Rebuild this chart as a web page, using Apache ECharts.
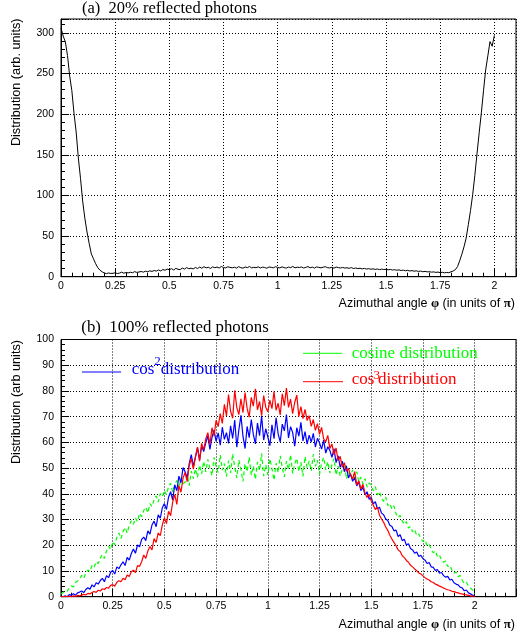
<!DOCTYPE html>
<html><head><meta charset="utf-8">
<script src="https://cdn.jsdelivr.net/npm/echarts@6/dist/echarts.min.js"></script>
<style>html,body{margin:0;padding:0;background:#fff}#c{width:517px;height:638px}</style>
</head><body><div id="c"></div><script>
// Bin step along the azimuthal axis (units of pi)
const binStep = 0.01;

// (a) 20% reflected photons
const reflected20 = [306,296,289,272,247,229,201,178,146,121,
93,72,55,41,28,22,16,11,8,6,
4.5,3.8,4.6,4.0,4.2,4.8,3.9,4.4,5.6,4.3,
5.1,4.7,5.5,4.9,6.2,5.3,5.8,6.4,5.6,6.8,
6.1,7.2,6.5,7.6,6.9,8.3,7.1,8.8,7.9,9.4,
8.6,9.9,8.2,10.3,9.1,8.7,10.6,9.4,11.2,9.8,
10.5,9.6,11.3,10.1,11.8,10.4,12.3,10.9,11.6,10.2,
12.1,11.0,11.9,10.7,12.6,11.3,10.8,12.2,11.5,10.9,
11.7,10.6,12.4,11.1,10.5,11.9,11.2,12.5,10.8,11.6,
11.0,12.2,10.7,11.8,11.3,10.4,12.0,11.5,10.9,12.3,
11.4,10.8,12.1,11.2,10.6,11.9,11.1,12.6,10.9,11.7,
11.3,12.0,10.7,11.5,12.4,11.0,11.8,10.6,12.1,11.4,
10.9,11.7,12.3,11.1,10.8,11.6,10.5,11.9,11.2,10.7,
11.4,10.6,11.0,10.3,11.2,10.1,10.7,9.9,10.4,9.6,
10.2,9.4,9.9,9.2,9.7,8.9,9.5,8.7,9.3,8.8,
9.1,8.5,8.9,8.2,8.6,7.9,8.4,7.6,8.1,7.3,
7.8,7.0,7.5,6.8,7.2,6.5,6.9,6.1,6.6,5.9,
6.2,5.6,5.9,5.3,5.7,5.0,5.4,4.8,5.2,4.9,
6.1,7.0,8.6,12.4,19.5,27.6,36.8,47.5,64.1,81.3,
100.8,124.6,151.2,176.9,201.5,228.7,254.3,271.6,289.2,283.5,
296.8];

// (b) 100% reflected photons: cosine (green)
const cosineDist = [1.0,1.6,2.3,2.1,3.4,4.2,3.8,5.5,6.1,6.9,
8.3,7.2,9.1,10.4,9.8,12.2,11.4,13.6,12.9,15.1,
16.4,14.9,17.8,19.6,18.3,21.4,20.2,23.1,24.8,22.6,
25.3,26.9,24.7,27.8,29.5,28.1,30.6,29.2,32.4,31.1,
33.5,34.8,32.6,36.2,35.1,37.7,39.2,36.8,40.1,38.9,
41.3,39.6,42.8,44.1,40.7,43.5,45.2,42.1,46.3,43.9,
44.6,47.5,43.2,48.8,45.9,49.7,46.4,51.2,47.8,52.6,
48.5,53.4,49.9,47.1,54.2,50.6,48.3,55.1,49.2,51.8,
46.7,52.9,48.1,55.6,50.4,46.2,53.1,49.5,44.8,51.7,
48.6,54.3,47.2,50.8,45.6,52.4,49.1,55.7,46.9,51.3,
47.4,53.6,49.8,45.3,51.9,48.2,54.8,50.1,46.6,52.7,
49.4,55.2,47.9,51.6,53.8,48.7,52.3,46.8,54.5,50.2,
52.8,48.9,55.4,50.7,53.1,47.6,51.9,54.2,49.3,52.5,
48.1,51.4,53.7,47.3,50.8,46.9,49.6,52.1,45.8,48.4,
47.1,49.3,45.2,48.6,44.7,46.5,43.8,45.9,42.6,44.2,
43.4,41.2,42.8,39.6,40.9,38.2,37.1,38.8,35.4,36.2,
34.1,35.3,32.2,30.8,31.6,29.4,28.1,29.2,26.7,27.3,
25.2,26.1,23.8,24.4,22.6,21.5,22.1,19.8,20.4,18.3,
17.1,17.8,15.6,16.2,14.1,13.4,13.9,11.7,12.2,10.4,
9.1,9.6,7.8,8.2,6.4,5.1,5.6,4.2,3.3,2.6,
1.2];

// cos^2 (blue)
const cos2Dist = [0,0,0.3,0,0.8,0.5,1.2,0.6,1.5,1.8,
2.2,1.6,2.8,3.5,2.9,4.6,3.8,5.4,4.9,6.3,
7.1,5.8,8.2,7.4,9.5,10.2,8.8,11.6,10.9,12.4,
13.6,12.1,15.3,14.2,16.8,18.5,16.9,20.1,19.4,22.3,
23.2,21.8,25.6,24.3,27.9,29.4,27.2,31.8,30.5,34.6,
36.2,33.9,38.7,40.8,37.6,43.5,41.2,46.9,44.3,50.2,
48.6,46.1,51.8,55.2,50.7,54.3,57.9,53.2,58.6,56.4,
59.8,62.5,57.3,61.9,64.8,60.4,63.7,58.9,65.9,61.2,
63.8,59.6,66.4,61.5,68.7,58.1,64.9,70.5,62.3,57.6,
66.2,61.8,68.9,63.1,59.4,67.5,62.6,70.2,60.9,65.3,
62.1,58.7,66.8,61.4,69.6,63.3,60.2,67.1,64.5,70.8,
61.7,66.1,63.9,58.5,65.7,62.4,67.8,60.6,64.2,59.3,
62.8,60.1,63.5,58.2,61.6,59.8,57.4,60.9,55.8,58.3,
56.9,54.2,57.6,52.1,54.8,50.3,52.7,48.6,50.9,46.2,
47.8,44.9,46.3,43.1,44.6,41.2,42.5,39.7,40.8,37.9,
38.6,36.1,36.9,34.2,34.8,32.5,31.9,30.2,29.6,27.8,
27.3,25.6,25.9,23.4,24.1,21.8,22.3,20.1,20.6,18.7,
18.2,16.9,17.4,15.6,16.1,14.8,14.2,12.9,13.3,11.6,
11.4,10.2,10.6,9.1,9.4,8.2,7.6,7.9,6.5,6.8,
5.4,4.9,4.6,3.7,3.4,2.3,2.6,1.5,1.1,0.6,
0.2];

// cos^3 (red)
const cos3Dist = [0,0,0,0,0.2,0,0.3,0.1,0.5,0.3,
0.6,0.9,0.7,1.3,1.1,1.6,2.0,1.7,2.5,2.2,
3.1,2.8,3.6,3.3,4.4,4.7,4.1,5.6,6.2,5.8,
7.2,6.6,8.4,7.9,9.7,10.3,9.4,12.1,11.8,13.6,
16.2,14.9,17.8,19.5,18.2,22.6,21.1,24.8,23.7,27.9,
30.6,28.4,33.2,31.5,36.8,39.7,35.9,43.2,40.6,46.1,
48.3,44.7,50.9,53.8,49.6,54.4,58.2,52.7,59.6,57.1,
61.3,63.8,59.2,65.7,62.4,68.6,66.1,71.2,67.4,74.8,
70.3,78.6,72.1,69.4,80.2,73.5,70.8,76.9,71.6,79.4,
73.2,69.8,77.5,74.1,80.8,72.6,75.9,70.4,78.2,73.7,
71.9,76.4,73.1,79.8,72.5,75.2,70.7,78.9,74.3,81.1,
73.6,76.8,71.2,75.5,78.4,70.1,73.9,69.2,72.8,68.5,
70.4,66.2,68.9,64.7,67.3,63.1,65.8,61.4,60.2,62.7,
57.6,59.4,55.1,57.8,52.9,54.6,50.3,52.1,48.7,49.9,
47.2,45.8,48.6,43.5,45.1,41.9,43.7,40.2,38.6,39.8,
37.3,35.6,33.9,34.8,31.7,30.2,28.9,27.1,25.8,23.9,
22.4,21.1,19.8,18.2,17.6,15.9,15.2,14.1,13.4,12.2,
11.6,10.8,10.1,9.2,8.8,8.1,7.4,6.9,6.5,5.8,
5.5,4.9,4.6,4.1,3.8,3.4,3.0,2.7,2.5,2.1,
2.0,1.7,1.5,1.2,1.1,0.8,0.7,0.5,0.3,0.2,
0.1];

const titles = ['(a)  20% reflected photons', '(b)  100% reflected photons'];
const yNames = ['Distribution (arb. units)', 'Distribution (arb units)'];
const seriesNames = ['cosine distribution', 'cos2 distribution', 'cos3 distribution'];

const toXY = arr => arr.map((v, i) => [+(i * binStep).toFixed(2), v]);

const SANS = '"Liberation Sans", Arial, sans-serif';
const SERIF = '"Liberation Serif", "Times New Roman", serif';
const GRIDLINE = {color: '#000', width: 1, type: [1, 2]};

function xAxisCfg(gi, max) {
  return {
    type: 'value', gridIndex: gi, min: 0, max: max, interval: 0.25,
    axisLine: {show: true, lineStyle: {color: '#000', width: 1}},
    axisTick: {show: true, inside: true, length: 8, lineStyle: {color: '#000'}},
    minorTick: {show: true, splitNumber: 5, length: 4, lineStyle: {color: '#000'}},
    splitLine: {show: true, lineStyle: GRIDLINE},
    axisLabel: {showMaxLabel: false, margin: 4, color: '#000', fontFamily: SANS, fontSize: 10.5}
  };
}
function yAxisCfg(gi, max, interval) {
  return {
    type: 'value', gridIndex: gi, min: 0, max: max, interval: interval,
    axisLine: {show: true, lineStyle: {color: '#000', width: 1}},
    axisTick: {show: true, inside: true, length: 8, lineStyle: {color: '#000'}},
    minorTick: {show: true, splitNumber: 5, length: 4, lineStyle: {color: '#000'}},
    splitLine: {show: true, lineStyle: GRIDLINE},
    axisLabel: {showMaxLabel: interval === 10, margin: 7, color: '#000', fontFamily: SANS, fontSize: 10.5}
  };
}

const xNameRich = {
  n: {fontFamily: SANS, fontSize: 12.5, fill: '#000'},
  s: {fontFamily: SERIF, fontSize: 13, fontWeight: 'bold', fill: '#000'}
};
const xNameText = '{n|Azimuthal angle }{s|φ}{n| (in units of }{s|π}{n|)}';

const chart = echarts.init(document.getElementById('c'), null, {renderer: 'canvas'});
chart.setOption({
  animation: false,
  backgroundColor: '#fff',
  title: [
    {text: titles[0], left: 169.5, top: 0, textAlign: 'center', padding: 0,
     textStyle: {fontFamily: SERIF, fontSize: 16.5, fontWeight: 'normal', color: '#000'}},
    {text: titles[1], left: 175, top: 319, textAlign: 'center', padding: 0,
     textStyle: {fontFamily: SERIF, fontSize: 16.8, fontWeight: 'normal', color: '#000'}}
  ],
  grid: [
    {left: 61, top: 19, width: 455, height: 257.7, show: true, borderColor: '#000', borderWidth: 1, containLabel: false, outerBoundsMode: 'none'},
    {left: 61, top: 339.5, width: 455, height: 257.2, show: true, borderColor: '#000', borderWidth: 1, containLabel: false, outerBoundsMode: 'none'}
  ],
  xAxis: [xAxisCfg(0, 2.1), xAxisCfg(1, 2.2)],
  yAxis: [yAxisCfg(0, 317, 50), yAxisCfg(1, 100, 10)],
  series: [
    {name: 'reflected 20%', type: 'line', xAxisIndex: 0, yAxisIndex: 0, data: toXY(reflected20),
     symbol: 'none', showSymbol: false, lineStyle: {color: '#000', width: 1}},
    {name: seriesNames[0], type: 'line', xAxisIndex: 1, yAxisIndex: 1, data: toXY(cosineDist),
     symbol: 'none', showSymbol: false, lineStyle: {color: '#00ff00', width: 1.2, type: [4, 3]}},
    {name: seriesNames[1], type: 'line', xAxisIndex: 1, yAxisIndex: 1, data: toXY(cos2Dist),
     symbol: 'none', showSymbol: false, lineStyle: {color: '#0000ff', width: 1.2}},
    {name: seriesNames[2], type: 'line', xAxisIndex: 1, yAxisIndex: 1, data: toXY(cos3Dist),
     symbol: 'none', showSymbol: false, lineStyle: {color: '#ff0000', width: 1.2}}
  ],
  graphic: [
    // axis names
    {type: 'text', x: 16.8, y: 18.5, rotation: Math.PI / 2,
     style: {text: yNames[0], font: '12.7px ' + SANS, fill: '#000', align: 'right', verticalAlign: 'middle'}},
    {type: 'text', x: 16.5, y: 340, rotation: Math.PI / 2,
     style: {text: yNames[1], font: '12.7px ' + SANS, fill: '#000', align: 'right', verticalAlign: 'middle'}},
    {type: 'text', x: 515, y: 304, style: {text: xNameText, rich: xNameRich, align: 'right', verticalAlign: 'middle'}},
    {type: 'text', x: 515, y: 624.5, style: {text: xNameText, rich: xNameRich, align: 'right', verticalAlign: 'middle'}},
    // legend: cos^2
    {type: 'line', shape: {x1: 82, y1: 372, x2: 121, y2: 372}, style: {stroke: '#0000ff', lineWidth: 1}},
    {type: 'text', x: 131.7, y: 369.7, style: {text: 'cos', font: '17px ' + SERIF, fill: '#0000ff', align: 'left', verticalAlign: 'middle'}},
    {type: 'text', x: 154.2, y: 361.5, style: {text: '2', font: '13px ' + SERIF, fill: '#0000ff', align: 'left', verticalAlign: 'middle'}},
    {type: 'text', x: 160.8, y: 369.7, style: {text: 'distribution', font: '17px ' + SERIF, fill: '#0000ff', align: 'left', verticalAlign: 'middle'}},
    // legend: cosine
    {type: 'line', shape: {x1: 303, y1: 353.3, x2: 342, y2: 353.3}, style: {stroke: '#00ff00', lineWidth: 1}},
    {type: 'text', x: 351.7, y: 354, style: {text: 'cosine distribution', font: '17px ' + SERIF, fill: '#00ff00', align: 'left', verticalAlign: 'middle'}},
    // legend: cos^3
    {type: 'line', shape: {x1: 303, y1: 381.7, x2: 343, y2: 381.7}, style: {stroke: '#ff0000', lineWidth: 1}},
    {type: 'text', x: 351.7, y: 380, style: {text: 'cos', font: '17px ' + SERIF, fill: '#ff0000', align: 'left', verticalAlign: 'middle'}},
    {type: 'text', x: 373.6, y: 375.5, style: {text: '3', font: '13px ' + SERIF, fill: '#ff0000', align: 'left', verticalAlign: 'middle'}},
    {type: 'text', x: 378, y: 380, style: {text: 'distribution', font: '17px ' + SERIF, fill: '#ff0000', align: 'left', verticalAlign: 'middle'}}
  ]
});
</script></body></html>
